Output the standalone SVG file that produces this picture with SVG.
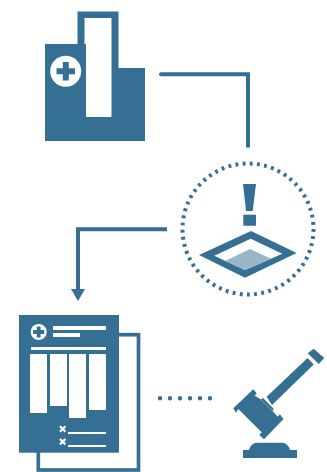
<svg xmlns="http://www.w3.org/2000/svg" width="327" height="472" viewBox="0 0 327 472">
<style>
.f{fill:#366f94}.w{fill:#fff}.c{fill:none;stroke:#366f94;stroke-width:4;stroke-linecap:round}
</style>
<rect class="w" width="327" height="472"/>
<g id="connectors">
<path class="c" d="M161 74.200H248V146"/>
<path class="c" d="M167 229.300H78V291" style="stroke-linecap:butt"/>
<path d="M78 301L71 289H85Z" class="f"/>
<path d="M160 398.300H211" fill="none" stroke="#366f94" stroke-width="4.400" stroke-linecap="round" stroke-dasharray="0 10"/>
</g>
<g id="hospital">
<path class="f" d="M77.500 44V11.500H118.500V68H145V141H45V44Z"/>
<path class="w" d="M84.500 18H111.500V117H86V44H84.500Z"/>
<circle class="w" cx="65.700" cy="71.300" r="15.500"/>
<path class="f" d="M62.800 62H68.800V68.300H75V74.300H68.800V80.500H62.800V74.300H56.500V68.300H62.800Z"/>
</g>
<g id="alert">
<circle cx="248" cy="229" r="65.500" fill="none" stroke="#366f94" stroke-width="4" pathLength="57" stroke-dasharray="0.4 0.6"/>
<path class="f" d="M243 184H256L252.700 211H246Z"/>
<rect class="f" x="243.300" y="214.700" width="12.700" height="11"/>
<path class="f" d="M199 255L251 231L296.700 253L245 277.700Z"/>
<path class="w" d="M214.300 255.700L250.700 238.700L282.300 253.700L245 270Z"/>
<path fill="#9ab5c8" d="M225 261L250 249L271 258.700L245 270Z"/>
</g>
<g id="report">
<rect x="38.300" y="334.700" width="100.200" height="135.300" fill="#fff" stroke="#366f94" stroke-width="3.700"/>
<rect class="f" x="19" y="315" width="100" height="137.700"/>
<circle class="w" cx="38.700" cy="332" r="8"/>
<path class="f" d="M36.800 326.500H40.600V330H44.200V334H40.600V337.500H36.800V334H33.200V330H36.800Z"/>
<rect class="w" x="53" y="326" width="53" height="4"/>
<rect class="w" x="53" y="333" width="27" height="4"/>
<rect class="w" x="31" y="347" width="75" height="3"/>
<rect class="w" x="30" y="354" width="17" height="59"/>
<rect class="w" x="50" y="354" width="17" height="52"/>
<rect class="w" x="69" y="354" width="17" height="64"/>
<rect class="w" x="89" y="354" width="17" height="56"/>
<path d="M60 426.300L65.400 431.700M65.400 426.300L60 431.700M60 439L65.400 444.400M65.400 439L60 444.400" stroke="#fff" stroke-width="2.200" fill="none"/>
<rect class="w" x="68" y="432" width="38" height="2"/>
<rect class="w" x="68" y="445" width="38" height="2"/>
</g>
<g id="gavel">
<path class="f" d="M233.300 408.300L253.300 389.300L256.700 393.300L254.700 395.700L261 399.500L263 398L273.700 408.700L272.500 411L277.500 416.500L280 414.500L283.500 419L264 439.300L259.300 435L261.700 432.300L238.300 409L236 412.700Z"/>
<path d="M261 400L272.300 410.800" stroke="#9ab5c8" stroke-width="0.700" fill="none"/>
<path class="f" d="M266.700 396.700L272 405L313.700 364.500L307.500 358Z"/>
<path class="f" d="M307.700 353.300L313.700 348.700L324.300 358L318.700 364Z"/>
<path class="f" d="M243 450H249C250 446 253 442.700 257 442.700H282C286 442.700 289 446 290 450H297V458H243Z"/>
</g>
</svg>
